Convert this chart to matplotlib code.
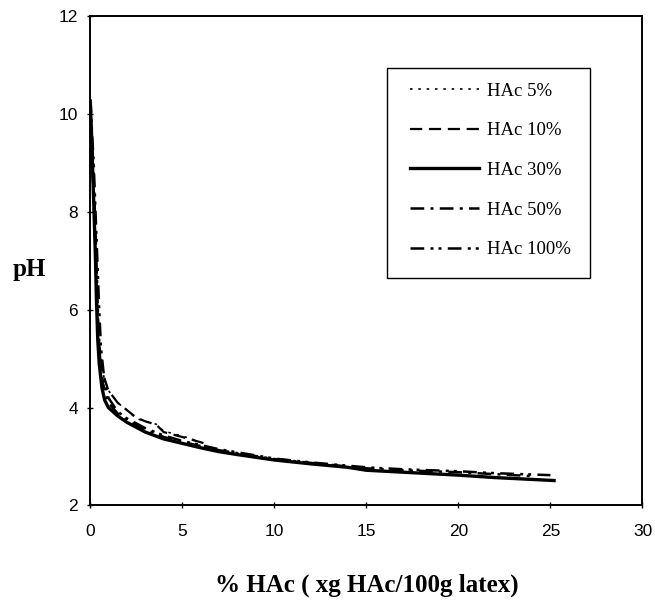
import matplotlib
matplotlib.use('Agg')
import matplotlib.pyplot as plt
from matplotlib.patches import Rectangle

# values
x_5 = [0.02, 0.08, 0.15, 0.25, 0.35, 0.45, 0.6, 0.8, 1.0, 1.5, 2.0, 2.5, 3.0, 3.6, 4.0, 5.0, 6.0]
ph_5 = [10.1, 9.4, 8.6, 7.5, 6.4, 5.5, 4.9, 4.55, 4.35, 4.1, 3.95, 3.78, 3.72, 3.66, 3.52, 3.42, 3.3]

x_10 = [0.03, 0.1, 0.2, 0.3, 0.4, 0.5, 0.7, 1.0, 1.5, 2.0, 2.5, 3.0, 3.6, 4.0, 5.0, 6.4]
ph_10 = [10.0, 9.2, 8.2, 7.0, 6.0, 5.3, 4.7, 4.35, 4.1, 3.95, 3.8, 3.72, 3.65, 3.5, 3.4, 3.25]

x_30 = [0.02, 0.08, 0.15, 0.22, 0.3, 0.35, 0.42, 0.5, 0.65, 0.8, 1.0, 1.5, 2.0, 3.0, 4.0,
        5.0, 6.0, 7.0, 8.0, 10.0, 12.0, 14.0, 15.0, 17.0, 20.0, 22.0, 25.2]
ph_30 = [10.2, 9.6, 8.8, 8.0, 7.0, 6.2, 5.4, 4.9, 4.4, 4.15, 4.0, 3.83, 3.7, 3.5, 3.36,
         3.27, 3.18, 3.1, 3.04, 2.93, 2.85, 2.78, 2.72, 2.68, 2.62, 2.57, 2.51]

x_50 = [0.03, 0.1, 0.2, 0.3, 0.38, 0.45, 0.55, 0.7, 1.0, 1.5, 2.0, 3.0, 4.0, 5.0, 7.0,
        10.0, 12.0, 15.0, 17.0, 20.0, 22.0, 24.0]
ph_50 = [10.0, 9.5, 8.7, 7.6, 6.6, 5.7, 5.0, 4.5, 4.1, 3.88, 3.74, 3.55, 3.4, 3.3, 3.13,
         2.95, 2.87, 2.76, 2.72, 2.68, 2.64, 2.6]

x_100 = [0.03, 0.1, 0.2, 0.3, 0.4, 0.5, 0.6, 0.8, 1.0, 1.5, 2.0, 3.0, 4.0, 5.0, 7.0,
         10.0, 12.0, 15.0, 17.0, 20.0, 22.0, 25.0]
ph_100 = [10.3, 9.7, 9.0, 8.0, 7.0, 6.0, 5.2, 4.5, 4.2, 3.92, 3.78, 3.58, 3.43, 3.32, 3.15,
          2.96, 2.88, 2.78, 2.74, 2.7, 2.66, 2.62]

labels = ['HAc 5%', 'HAc 10%', 'HAc 30%', 'HAc 50%', 'HAc 100%']

fig = plt.figure(figsize=(6.55, 6.03), dpi=100)
ax = fig.add_axes([0.1374, 0.1617, 0.8435, 0.8118])

ax.plot(x_5, ph_5, color='black', lw=1.2, ls=(0, (1.5, 3.5)), label=labels[0])
ax.plot(x_10, ph_10, color='black', lw=1.6, ls=(0, (5.5, 3)), label=labels[1])
ax.plot(x_30, ph_30, color='black', lw=2.4, ls='-', label=labels[2])
ax.plot(x_50, ph_50, color='black', lw=1.8, ls=(0, (5.5, 2.5, 1.2, 2.5)), label=labels[3])
ax.plot(x_100, ph_100, color='black', lw=1.8, ls=(0, (5.5, 2.5, 1.2, 2, 1.2, 2.5)), label=labels[4])

ax.set_xlim(0, 30)
ax.set_ylim(2, 12)
ax.set_xticks([0, 5, 10, 15, 20, 25, 30])
ax.set_yticks([2, 4, 6, 8, 10, 12])
ax.tick_params(direction='inout', length=5, width=1, labelsize=12.5)
ax.tick_params(axis='x', pad=11)
ax.tick_params(axis='y', pad=6)
for lab in ax.get_xticklabels() + ax.get_yticklabels():
    lab.set_family('Liberation Sans')
for sp in ax.spines.values():
    sp.set_linewidth(1.4)

ax.set_xlabel('% HAc ( xg HAc/100g latex)', family='Liberation Serif',
              fontweight='bold', fontsize=18, va='center')
ax.xaxis.set_label_coords(0.501, -0.162)
ax.set_ylabel('pH', family='Liberation Serif', fontweight='bold',
              fontsize=18, rotation=0, va='center', ha='center')
ax.yaxis.set_label_coords(-0.110, 0.483)

# legend frame drawn separately so the entries can sit where they do in the original
ax.add_patch(Rectangle((0.5376, 0.4648), 0.3674, 0.429, transform=ax.transAxes,
                       fill=False, edgecolor='black', lw=1.0, zorder=5))
leg = ax.legend(loc='upper left', bbox_to_anchor=(0.579, 0.864), frameon=False,
                prop={'family': 'Liberation Serif', 'size': 13.5},
                handlelength=3.7, labelspacing=1.2, borderpad=0,
                handletextpad=0.4, borderaxespad=0)

fig.savefig('out.png', dpi=100)
